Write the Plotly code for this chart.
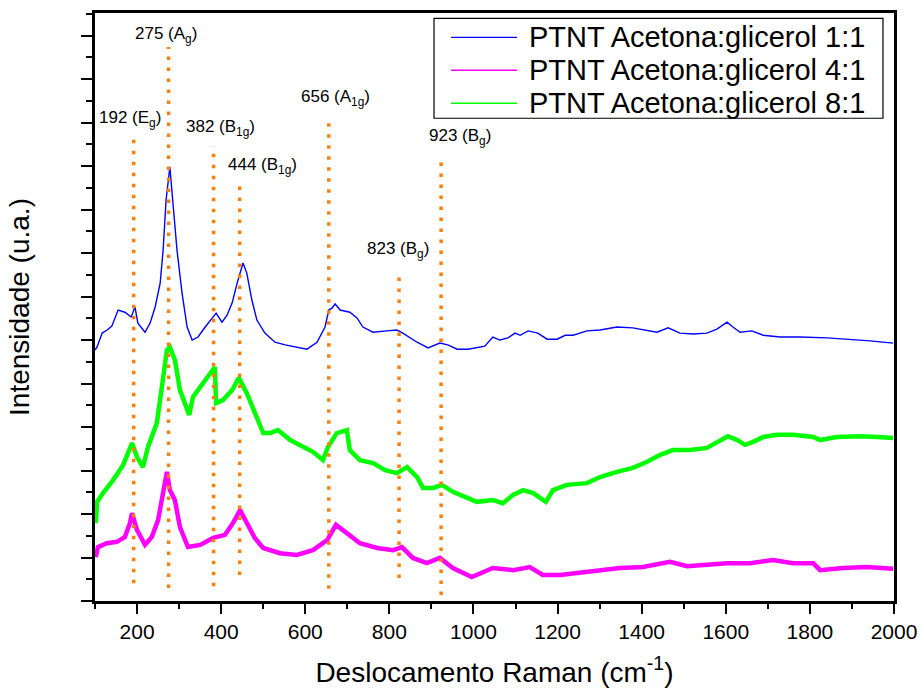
import plotly.graph_objects as go

# Raman spectra of PTNT samples (offset, arbitrary units)
wn_11 = [100, 105, 117, 129, 140, 155, 171, 186, 195, 202, 219, 231, 243, 255, 262, 269, 278,
         285, 295, 307, 319, 331, 345, 362, 378, 388, 402, 414, 426, 438, 452, 461, 473, 485,
         504, 528, 552, 576, 604, 628, 647, 656, 664, 671, 683, 706, 723, 737, 761, 794, 818,
         832, 866, 892, 920, 939, 961, 987, 1027, 1046, 1063, 1082, 1099, 1111, 1130, 1153,
         1175, 1199, 1218, 1237, 1270, 1301, 1341, 1379, 1413, 1436, 1463, 1491, 1522, 1555,
         1579, 1603, 1617, 1634, 1662, 1689, 1729, 1777, 1841, 1888, 1943, 1998]
int_11 = [5.77, 5.84, 6.16, 6.23, 6.32, 6.69, 6.64, 6.53, 6.76, 6.39, 6.18, 6.39, 6.76, 7.31,
          8.07, 9.22, 9.98, 9.22, 8.07, 7.08, 6.30, 6.00, 6.07, 6.30, 6.51, 6.62, 6.41, 6.57,
          6.85, 7.31, 7.77, 7.54, 6.92, 6.46, 6.16, 5.95, 5.89, 5.84, 5.79, 5.95, 6.30, 6.69,
          6.74, 6.83, 6.69, 6.64, 6.51, 6.30, 6.18, 6.21, 6.23, 6.16, 5.95, 5.82, 5.93, 5.89,
          5.79, 5.79, 5.86, 6.07, 6.00, 6.05, 6.16, 6.11, 6.21, 6.16, 6.02, 6.02, 6.11, 6.11,
          6.21, 6.23, 6.30, 6.28, 6.21, 6.18, 6.28, 6.16, 6.14, 6.16, 6.25, 6.41, 6.30, 6.18,
          6.21, 6.11, 6.07, 6.07, 6.05, 6.02, 5.98, 5.93]

wn_41 = [102, 107, 128, 152, 171, 183, 188, 200, 219, 235, 250, 262, 271, 278, 290, 302, 321,
         350, 381, 409, 428, 445, 461, 480, 500, 540, 580, 618, 652, 673, 699, 730, 771, 809,
         830, 856, 889, 920, 951, 985, 996, 1046, 1094, 1134, 1165, 1206, 1246, 1301, 1348,
         1403, 1467, 1508, 1562, 1603, 1658, 1712, 1760, 1808, 1824, 1879, 1936, 1998]
int_41 = [1.01, 1.24, 1.33, 1.36, 1.47, 1.79, 2.02, 1.63, 1.29, 1.47, 1.86, 2.48, 2.97, 2.55,
          2.32, 1.70, 1.24, 1.29, 1.45, 1.52, 1.79, 2.09, 1.79, 1.45, 1.22, 1.10, 1.06, 1.17,
          1.40, 1.75, 1.56, 1.33, 1.22, 1.17, 1.24, 0.99, 0.87, 0.99, 0.76, 0.60, 0.55, 0.76,
          0.71, 0.78, 0.60, 0.60, 0.64, 0.71, 0.76, 0.78, 0.90, 0.80, 0.83, 0.87, 0.87, 0.94,
          0.87, 0.87, 0.71, 0.76, 0.78, 0.74]

wn_81 = [102, 105, 119, 143, 167, 188, 200, 214, 226, 247, 259, 271, 278, 290, 302, 314, 324,
         333, 350, 369, 385, 388, 404, 426, 442, 461, 480, 500, 516, 535, 564, 588, 618, 642,
         654, 675, 699, 706, 730, 761, 790, 818, 842, 866, 880, 904, 925, 951, 985, 1008,
         1046, 1070, 1094, 1118, 1142, 1172, 1189, 1222, 1270, 1301, 1341, 1379, 1413, 1444,
         1474, 1515, 1555, 1586, 1605, 1627, 1646, 1665, 1689, 1722, 1760, 1808, 1824, 1864,
         1919, 1960, 1998]
int_81 = [1.79, 2.28, 2.48, 2.78, 3.13, 3.63, 3.31, 3.08, 3.54, 4.09, 4.92, 5.77, 5.84, 5.54,
          4.85, 4.55, 4.28, 4.69, 4.92, 5.15, 5.38, 4.55, 4.62, 4.85, 5.13, 4.78, 4.32, 3.86,
          3.86, 3.93, 3.70, 3.59, 3.43, 3.24, 3.54, 3.86, 3.93, 3.47, 3.24, 3.17, 3.01, 2.94,
          3.08, 2.85, 2.60, 2.60, 2.67, 2.51, 2.37, 2.28, 2.32, 2.25, 2.44, 2.55, 2.48, 2.28,
          2.55, 2.67, 2.71, 2.85, 2.97, 3.06, 3.20, 3.36, 3.47, 3.47, 3.52, 3.70, 3.79, 3.70,
          3.59, 3.66, 3.77, 3.82, 3.82, 3.77, 3.70, 3.77, 3.79, 3.77, 3.75]

# Band assignments: wavenumber, mode label, span of the marker line
band_pos = [192, 275, 382, 444, 656, 823, 923]
band_mode = ["E<sub>g</sub>", "A<sub>g</sub>", "B<sub>1g</sub>", "B<sub>1g</sub>",
             "A<sub>1g</sub>", "B<sub>g</sub>", "B<sub>g</sub>"]
band_top = [10.78, 12.74, 10.46, 9.68, 11.15, 7.52, 10.25]
band_bottom = [0.41, 0.30, 0.34, 0.60, 0.28, 0.53, 0.14]

series_names = ["PTNT Acetona:glicerol 1:1", "PTNT Acetona:glicerol 4:1",
                "PTNT Acetona:glicerol 8:1"]

# label placement (y in axis units, horizontal nudge in px)
label_y = [11.08, 13.01, 10.87, 10.00, 11.56, 8.07, 10.67]
label_dx = [-4, -3, 7, 23, 7, -1, 19]

FONT = "Liberation Sans, Arial, sans-serif"
colors = ["#0000FF", "#FF00FF", "#00FF00"]
widths = [1.4, 4.5, 4.5]
orange = "#FF7F0E"

fig = go.Figure()
data = [(wn_11, int_11), (wn_41, int_41), (wn_81, int_81)]
for (xs, ys), name, c, w in zip(data, series_names, colors, widths):
    fig.add_trace(go.Scatter(x=xs, y=ys, mode="lines", line=dict(color=c, width=w),
                             name=name, showlegend=False))

for pos, top, bot in zip(band_pos, band_top, band_bottom):
    fig.add_shape(type="line", xref="x", yref="y", x0=pos, x1=pos, y0=bot, y1=top,
                  line=dict(color=orange, width=3.5, dash="3.5px,7.5px"), layer="above")

for pos, mode, ly, dx in zip(band_pos, band_mode, label_y, label_dx):
    fig.add_annotation(x=pos, y=ly, xref="x", yref="y", text=f"{pos} ({mode})",
                       showarrow=False, xanchor="center", yanchor="middle", xshift=dx,
                       font=dict(family=FONT, size=17, color="black"))

# boxed key in the upper right corner
key_box = dict(x0=0.4243, x1=0.9862, y0=0.821, y1=0.991)
key_rows = [0.9587, 0.9026, 0.8465]
fig.add_shape(type="rect", xref="paper", yref="paper", **key_box,
              line=dict(color="black", width=1.2), fillcolor="white", layer="above")
for name, c, ry in zip(series_names, colors, key_rows):
    fig.add_shape(type="line", xref="paper", yref="paper", x0=0.4456, x1=0.5282,
                  y0=ry, y1=ry, line=dict(color=c, width=1.3), layer="above")
    fig.add_annotation(x=0.5407, y=ry, xref="paper", yref="paper", text=name,
                       showarrow=False, xanchor="left", yanchor="middle",
                       font=dict(family=FONT, size=29, color="black"))

fig.update_layout(
    width=923, height=688,
    margin=dict(l=95, r=29, t=13, b=87),
    paper_bgcolor="white", plot_bgcolor="white",
    font=dict(family=FONT, color="black"),
    showlegend=False,
)
fig.update_xaxes(
    range=[100, 2000], tick0=0, dtick=200, showgrid=False, zeroline=False,
    showline=True, linecolor="black", linewidth=2.5, mirror=True, automargin=False,
    ticks="outside", ticklen=10, tickwidth=2, tickcolor="black",
    tickfont=dict(family=FONT, size=21, color="black"),
    minor=dict(dtick=100, ticks="outside", ticklen=5, tickwidth=2, tickcolor="black"),
    title=dict(text="Deslocamento Raman (cm<sup>-1</sup>)",
               font=dict(family=FONT, size=28, color="black"), standoff=25),
)
fig.update_yaxes(
    range=[0, 13.52], tick0=0, dtick=1, showgrid=False, zeroline=False,
    showline=True, linecolor="black", linewidth=2.5, mirror=True, automargin=False,
    ticks="outside", ticklen=11, tickwidth=2, tickcolor="black", showticklabels=False,
    minor=dict(dtick=0.5, ticks="outside", ticklen=6, tickwidth=2, tickcolor="black"),
    title=dict(text="Intensidade (u.a.)",
               font=dict(family=FONT, size=28, color="black"), standoff=44),
)

fig.write_html("out.html")
